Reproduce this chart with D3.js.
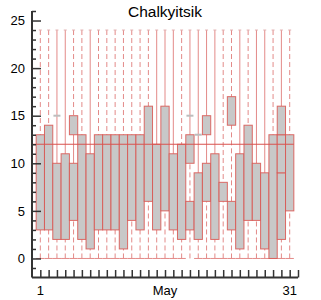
<!DOCTYPE html>
<html>
<head>
<meta charset="utf-8">
<script src="https://cdn.jsdelivr.net/npm/d3@7"></script>
<style>
  body { margin: 0; background: #fff; }
  svg { font-family: "Liberation Sans", Arial, sans-serif; }
</style>
</head>
<body>
<div id="chart"></div>
<script>
// day, box bottom, box top
const boxes = [
    [1, 3, 13], [2, 3, 14], [3, 2, 10], [4, 2, 11], [5, 4, 10], [5, 13, 15],
    [6, 2, 13], [7, 1, 11], [8, 3, 13], [9, 3, 13], [10, 3, 13], [11, 1, 13],
    [12, 4, 13], [13, 3, 13], [14, 6, 16], [15, 3, 12], [16, 5, 16], [17, 3, 11],
    [18, 2, 12], [19, 3, 6], [19, 10, 13], [20, 2, 9], [21, 6, 10], [21, 13, 15],
    [22, 2, 11], [23, 6, 8], [24, 3, 6], [24, 14, 17], [25, 1, 11], [26, 4, 14],
    [27, 4, 10], [28, 1, 9], [29, 0, 13], [30, 2, 9], [30, 9, 13], [30, 13, 16],
    [31, 5, 13]
];
const days = [1,2,3,4,5,6,7,8,9,10,11,12,13,14,15,16,17,18,19,20,21,22,23,24,25,26,27,28,29,30,31];
const whiskerLow = 0;
const whiskerHigh = 24;
const solidUpper = [3, 4, 7, 15, 16, 17, 19, 20, 21, 22, 25, 27, 28, 30];
const solidMiddle = [5, 21];
const noLowCap = [19];
const grayMarks = [[3, 15], [19, 15], [20, 13]];
const refLine = 12;
const xLabels = {1: "1", 16: "May", 31: "31"};
const yMajor = [0, 5, 10, 15, 20, 25];
const yMinor = [-1,1,2,3,4,6,7,8,9,11,12,13,14,16,17,18,19,21,22,23,24,26];

const width = 321, height = 300;
const svg = d3.select("#chart").append("svg")
    .attr("width", width).attr("height", height);

const x = d3.scaleLinear().domain([0, 32]).range([32, 298]);
const y = d3.scaleLinear().domain([-2, 26]).range([277.5, 11]);
const bw = x(1) - x(0);

const boxStroke = "#d9534f", whisk = "#e38a88", fill = "#c8c8c8";

svg.append("text").text("Chalkyitsik")
    .attr("x", 165).attr("y", 16.5)
    .attr("text-anchor", "middle")
    .style("font-size", "15.5px").style("fill", "#000");

// whiskers
let g = svg.append("g");
days.forEach(function(d) {
    let bs = boxes.filter(function(b) { return b[0] === d; }).sort(function(a, b) { return a[1] - b[1]; });
    let lo = bs[0][1], hi = bs[bs.length - 1][2];
    // lower
    if (lo > whiskerLow) {
        g.append("line").attr("x1", x(d)).attr("x2", x(d))
            .attr("y1", y(whiskerLow)).attr("y2", y(lo))
            .attr("stroke", whisk).attr("stroke-dasharray", "5,3");
    }
    // upper
    g.append("line").attr("x1", x(d)).attr("x2", x(d))
        .attr("y1", y(whiskerHigh)).attr("y2", y(hi))
        .attr("stroke", whisk)
        .attr("stroke-dasharray", solidUpper.indexOf(d) >= 0 ? null : "5,3");
    // between boxes
    for (let i = 1; i < bs.length; i++) {
        if (bs[i][1] > bs[i-1][2]) {
            g.append("line").attr("x1", x(d)).attr("x2", x(d))
                .attr("y1", y(bs[i-1][2])).attr("y2", y(bs[i][1]))
                .attr("stroke", whisk)
                .attr("stroke-dasharray", solidMiddle.indexOf(d) >= 0 ? null : "5,3");
        }
    }
    // caps
    if (noLowCap.indexOf(d) < 0) {
        g.append("line").attr("x1", x(d) - bw/2).attr("x2", x(d) + bw/2)
            .attr("y1", y(whiskerLow)).attr("y2", y(whiskerLow))
            .attr("stroke", whisk);
    }
    g.append("line").attr("x1", x(d) - 1.5).attr("x2", x(d) + 1.5)
        .attr("y1", y(whiskerHigh)).attr("y2", y(whiskerHigh))
        .attr("stroke", "#e0b0b0");
});

// boxes
svg.append("g").selectAll("rect").data(boxes).enter().append("rect")
    .attr("x", function(d) { return x(d[0]) - bw/2; })
    .attr("width", bw)
    .attr("y", function(d) { return y(d[2]); })
    .attr("height", function(d) { return y(d[1]) - y(d[2]); })
    .attr("fill", fill)
    .attr("stroke", boxStroke).attr("stroke-opacity", 0.85).attr("stroke-width", 1);

// gray markers
svg.append("g").selectAll("line").data(grayMarks).enter().append("line")
    .attr("x1", function(d) { return x(d[0]) - 3.5; })
    .attr("x2", function(d) { return x(d[0]) + 3.5; })
    .attr("y1", function(d) { return y(d[1]); })
    .attr("y2", function(d) { return y(d[1]); })
    .attr("stroke", "#bdbdbd").attr("stroke-width", 2);

// reference line
svg.append("line")
    .attr("x1", x(0)).attr("x2", x(31) + bw/2)
    .attr("y1", y(refLine)).attr("y2", y(refLine))
    .attr("stroke", "#d9534f").attr("stroke-width", 1);

// y axis
let ya = svg.append("g").attr("transform", "translate(" + x(0) + ",0)");
ya.call(d3.axisRight(y).tickValues(yMajor).tickSize(9).tickFormat(""));
ya.append("g").call(d3.axisRight(y).tickValues(yMinor).tickSize(4).tickFormat(""));
ya.selectAll(".domain").remove();
ya.selectAll("line").attr("stroke", "#333").attr("stroke-width", 1.5);
ya.append("line").attr("x1", 0).attr("x2", 0).attr("y1", y(26)).attr("y2", y(-2))
    .attr("stroke", "#333").attr("stroke-width", 2);
svg.append("g").selectAll("text").data(yMajor).enter().append("text")
    .attr("x", 25).attr("y", function(d) { return y(d); })
    .attr("dy", "0.36em").attr("text-anchor", "end")
    .style("font-size", "13px")
    .text(function(d) { return d; });

// x axis
let xa = svg.append("g").attr("transform", "translate(0," + y(-2) + ")");
xa.call(d3.axisTop(x).tickValues(days.concat([32])).tickSize(7.5).tickFormat(""));
xa.selectAll(".domain").remove();
xa.selectAll("line").attr("stroke", "#333").attr("stroke-width", 1.5);
xa.append("line").attr("x1", x(0)).attr("x2", x(32)).attr("y1", 0).attr("y2", 0)
    .attr("stroke", "#333").attr("stroke-width", 2);
svg.append("g").selectAll("text").data(Object.keys(xLabels)).enter().append("text")
    .attr("x", function(d) { return x(+d); }).attr("y", 295)
    .attr("text-anchor", "middle")
    .style("font-size", "13px")
    .text(function(d) { return xLabels[d]; });
</script>
</body>
</html>
